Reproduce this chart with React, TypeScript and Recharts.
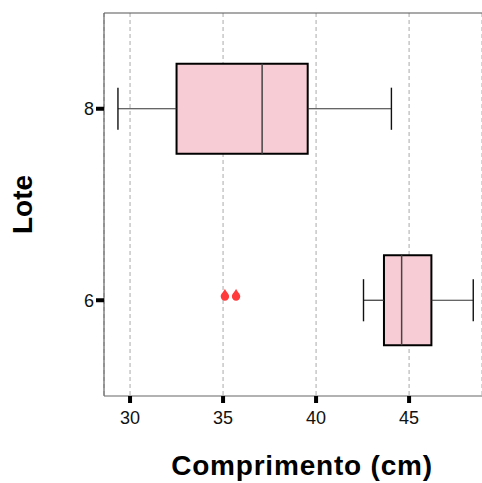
import {
  ComposedChart, Scatter, XAxis, YAxis, CartesianGrid,
  ReferenceArea, ReferenceLine,
} from 'recharts';

const lotes = [8, 6];
const mins = [29.35, 42.55];
const q1s = [32.5, 43.65];
const medians = [37.1, 44.6];
const q3s = [39.55, 46.2];
const maxs = [44.05, 48.45];

const outlierX = [35.1, 35.7];
const outlierLote = [6, 6];

const xTicks = [30, 35, 40, 45];
const yTicks = [6, 8];

const outliers = outlierX.map((x, i) => ({ x, y: outlierLote[i] }));

const BOX_HALF = 0.47;
const CAP_HALF = 0.22;
const FONT = '"Liberation Sans", Arial, sans-serif';

function Drop(props: any) {
  const { cx, cy } = props;
  if (cx == null || cy == null) return null;
  const c = cy - 3.7;
  const r = 4.2;
  const tip = cy - 11.5;
  const d = `M${cx},${tip} C${cx + 1},${tip + 3} ${cx + r},${c - 3} ${cx + r},${c} A${r},${r} 0 1 1 ${cx - r},${c} C${cx - r},${c - 3} ${cx - 1},${tip + 3} ${cx},${tip} Z`;
  return <path d={d} fill="#ff3b3b" />;
}

export default function App() {
  return (
    <div style={{ position: 'absolute', left: 0, top: 0, fontFamily: FONT }}>
      <ComposedChart width={482} height={483} margin={{ top: 13, right: 0, bottom: 0, left: 0 }}>
        <CartesianGrid horizontal={false} stroke="#aaaaaa" strokeDasharray="4 3" />
        <XAxis
          type="number" dataKey="x" domain={[28.6, 48.92]} allowDataOverflow ticks={xTicks}
          height={87} tickSize={7} tickMargin={8}
          tick={{ fontSize: 18, fill: '#111', fontFamily: FONT }}
          tickLine={{ stroke: '#000', strokeWidth: 4 }}
          axisLine={{ stroke: '#666', strokeWidth: 1.2 }}
          label={{ value: 'Comprimento (cm)', position: 'insideBottom', offset: 8, dx: 9, style: { fontSize: 28, fontWeight: 'bold', letterSpacing: 0.8, fill: '#000', fontFamily: FONT } }}
        />
        <YAxis
          type="number" dataKey="y" domain={[5, 9]} allowDataOverflow ticks={yTicks}
          width={104} tickSize={8} tickMargin={2}
          tick={{ fontSize: 18, fill: '#111', fontFamily: FONT }}
          tickLine={{ stroke: '#000', strokeWidth: 4 }}
          axisLine={{ stroke: '#666', strokeWidth: 1.2 }}
          label={{ value: 'Lote', angle: -90, position: 'insideLeft', offset: 22, style: { textAnchor: 'middle', fontSize: 28, fontWeight: 'bold', fill: '#000', fontFamily: FONT } }}
        />
        <ReferenceLine y={9} stroke="#555" strokeWidth={1.2} />
        {lotes.map((l, i) => (
          <ReferenceArea
            key={`box-${l}`}
            x1={q1s[i]} x2={q3s[i]} y1={l - BOX_HALF} y2={l + BOX_HALF}
            fill="#f8ccd5" fillOpacity={1} stroke="#000" strokeWidth={2}
          />
        ))}
        {lotes.map((l, i) => (
          <ReferenceLine key={`lw-${l}`} segment={[{ x: mins[i], y: l }, { x: q1s[i], y: l }]} stroke="#333" strokeWidth={1.2} />
        ))}
        {lotes.map((l, i) => (
          <ReferenceLine key={`hw-${l}`} segment={[{ x: q3s[i], y: l }, { x: maxs[i], y: l }]} stroke="#333" strokeWidth={1.2} />
        ))}
        {lotes.map((l, i) => (
          <ReferenceLine key={`lc-${l}`} segment={[{ x: mins[i], y: l - CAP_HALF }, { x: mins[i], y: l + CAP_HALF }]} stroke="#111" strokeWidth={1.4} />
        ))}
        {lotes.map((l, i) => (
          <ReferenceLine key={`hc-${l}`} segment={[{ x: maxs[i], y: l - CAP_HALF }, { x: maxs[i], y: l + CAP_HALF }]} stroke="#111" strokeWidth={1.4} />
        ))}
        {lotes.map((l, i) => (
          <ReferenceLine key={`md-${l}`} segment={[{ x: medians[i], y: l - BOX_HALF }, { x: medians[i], y: l + BOX_HALF }]} stroke="#444" strokeWidth={1.5} />
        ))}
        <Scatter data={outliers} dataKey="y" shape={<Drop />} isAnimationActive={false} />
      </ComposedChart>
    </div>
  );
}
